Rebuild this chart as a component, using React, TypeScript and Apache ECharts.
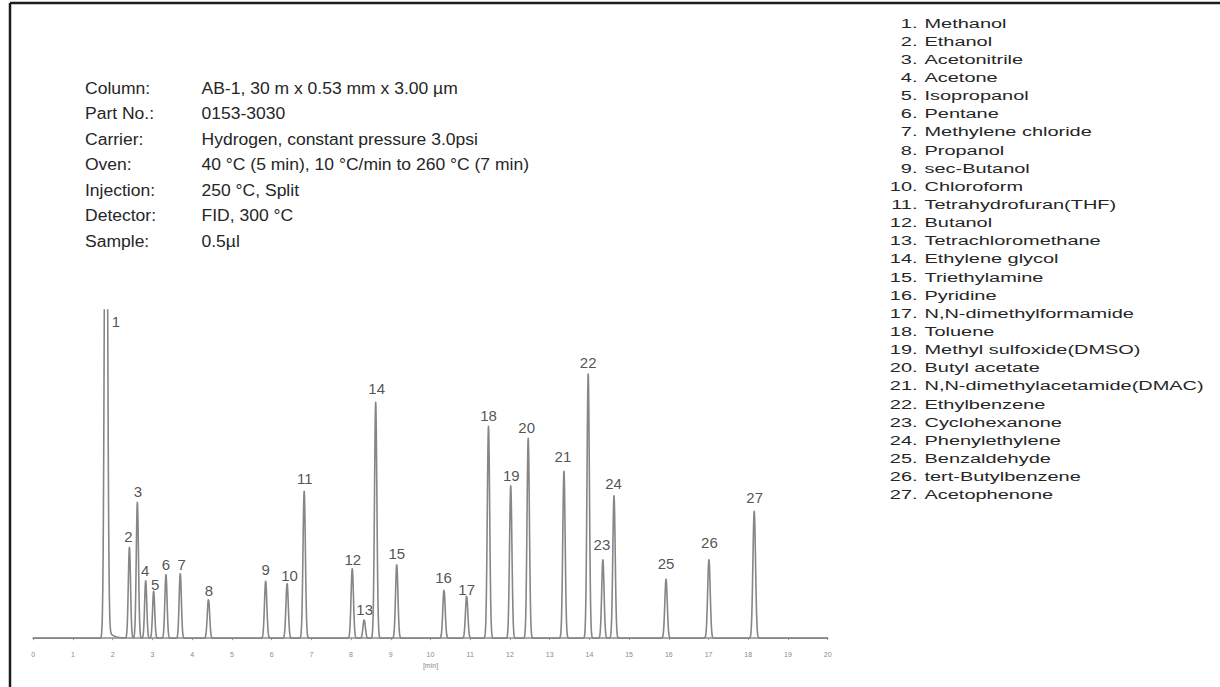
import { useEffect, useRef } from "react";
import * as echarts from "echarts";

// Peak table: number, retention time (min), height (relative response), peak sigma (min)
const peakNumbers = [
  1, 2, 3, 4, 5, 6, 7, 8, 9, 10, 11, 12, 13, 14, 15, 16, 17, 18, 19, 20, 21, 22, 23, 24, 25, 26, 27,
];
const retentionTimes = [
  1.83, 2.42, 2.62, 2.83, 3.03, 3.34, 3.7, 4.41, 5.85, 6.39, 6.82, 8.03, 8.33, 8.62, 9.15, 10.34,
  10.91, 11.46, 12.02, 12.46, 13.36, 13.97, 14.34, 14.62, 15.93, 17.01, 18.15,
];
const peakHeights = [
  700, 91, 136, 57.5, 47, 63.5, 64.5, 39, 57, 54.5, 147, 69.5, 18.5, 236, 73.5, 48.5, 42.5, 212,
  152.5, 200, 167, 264.5, 78.5, 142.5, 59, 78.5, 127,
];
const peakSigmas = [
  0.035, 0.028, 0.028, 0.027, 0.027, 0.028, 0.028, 0.03, 0.03, 0.03, 0.03, 0.03, 0.03, 0.03, 0.03,
  0.03, 0.03, 0.03, 0.03, 0.03, 0.03, 0.03, 0.03, 0.03, 0.031, 0.032, 0.033,
];
// Solvent (methanol) peak tailing
const solventTailHeight = 12;
const solventTailDecay = 0.12;

const compounds = [
  "Methanol",
  "Ethanol",
  "Acetonitrile",
  "Acetone",
  "Isopropanol",
  "Pentane",
  "Methylene chloride",
  "Propanol",
  "sec-Butanol",
  "Chloroform",
  "Tetrahydrofuran(THF)",
  "Butanol",
  "Tetrachloromethane",
  "Ethylene glycol",
  "Triethylamine",
  "Pyridine",
  "N,N-dimethylformamide",
  "Toluene",
  "Methyl sulfoxide(DMSO)",
  "Butyl acetate",
  "N,N-dimethylacetamide(DMAC)",
  "Ethylbenzene",
  "Cyclohexanone",
  "Phenylethylene",
  "Benzaldehyde",
  "tert-Butylbenzene",
  "Acetophenone",
];

const methodLabels = ["Column:", "Part No.:", "Carrier:", "Oven:", "Injection:", "Detector:", "Sample:"];
const methodValues = [
  "AB-1, 30 m x 0.53 mm x 3.00 µm",
  "0153-3030",
  "Hydrogen, constant pressure 3.0psi",
  "40 °C (5 min), 10 °C/min to 260 °C (7 min)",
  "250 °C, Split",
  "FID, 300 °C",
  "0.5µl",
];

const timeMin = 0;
const timeMax = 20;
const timeStep = 1;
const responseMin = -8.5;
const responseMax = 328.5;

// Label placement tweaks (pixels): [dx, lift above apex]
const labelPlacement: [number, number][] = [
  [10, -11], [-1, 11], [0.5, 11], [-0.5, 10], [1.5, 6.5], [0, 10], [1.5, 9], [0.5, 9], [0, 11.5],
  [2.5, 8.5], [0.5, 12.5], [0.5, 9], [0.5, 10], [1, 13.5], [0, 11.5], [-0.5, 12], [0, 6],
  [0, 11], [0.5, 10.5], [-1.5, 10.5], [-1, 15], [0, 11], [-1, 15], [-0.5, 12], [0, 16], [0.5, 17.5],
  [0.5, 13.5],
];

const FONT = "'Liberation Sans', Arial, Helvetica, sans-serif";
const TEXT_COLOR = "#262626";

function response(t: number): number {
  let y = 0;
  for (let i = 0; i < retentionTimes.length; i++) {
    const d = t - retentionTimes[i];
    const s = peakSigmas[i];
    if (Math.abs(d) > 10 * s) continue;
    y += peakHeights[i] * Math.exp((-d * d) / (2 * s * s));
  }
  const d0 = t - retentionTimes[0];
  if (d0 > 0) {
    const s0 = peakSigmas[0];
    y += solventTailHeight * (1 - Math.exp((-d0 * d0) / (2 * s0 * s0))) * Math.exp(-d0 / solventTailDecay);
  }
  return y;
}

function buildTrace(): [number, number][] {
  const pts: [number, number][] = [];
  const n = 4000;
  for (let k = 0; k <= n; k++) {
    const t = timeMin + ((timeMax - timeMin) * k) / n;
    pts.push([t, response(t)]);
  }
  return pts;
}

export default function App() {
  const ref = useRef<HTMLDivElement>(null);

  useEffect(() => {
    if (!ref.current) return;
    const chart = echarts.init(ref.current, undefined, { renderer: "svg" });

    const graphics: any[] = [
      // frame
      {
        type: "line",
        shape: { x1: 10, y1: 3, x2: 1220, y2: 3 },
        style: { stroke: "#1c1c1c", lineWidth: 2.5 },
        silent: true,
      },
      {
        type: "line",
        shape: { x1: 10, y1: 3, x2: 10, y2: 687 },
        style: { stroke: "#1c1c1c", lineWidth: 2.5 },
        silent: true,
      },
    ];

    methodLabels.forEach((lab, i) => {
      const y = 88.3 + i * 25.55;
      graphics.push({
        type: "text",
        x: 85,
        y,
        scaleX: 1.095,
        silent: true,
        style: {
          text: lab,
          fontSize: 16,
          fontFamily: FONT,
          fill: TEXT_COLOR,
          textAlign: "left",
          textVerticalAlign: "middle",
        },
      });
      graphics.push({
        type: "text",
        x: 201.5,
        y,
        scaleX: 1.095,
        silent: true,
        style: {
          text: methodValues[i],
          fontSize: 16,
          fontFamily: FONT,
          fill: TEXT_COLOR,
          textAlign: "left",
          textVerticalAlign: "middle",
        },
      });
    });

    compounds.forEach((name, i) => {
      const y = 23.3 + i * 18.14;
      graphics.push({
        type: "text",
        x: 917.5,
        y,
        scaleX: 1.5,
        silent: true,
        style: {
          text: `${peakNumbers[i]}.`,
          fontSize: 13.3,
          fontFamily: FONT,
          fill: TEXT_COLOR,
          textAlign: "right",
          textVerticalAlign: "middle",
        },
      });
      graphics.push({
        type: "text",
        x: 924.5,
        y,
        scaleX: 1.5,
        silent: true,
        style: {
          text: name,
          fontSize: 13.3,
          fontFamily: FONT,
          fill: TEXT_COLOR,
          textAlign: "left",
          textVerticalAlign: "middle",
        },
      });
    });

    const labelPoints = retentionTimes.map((t, i) => ({
      value: [t, Math.min(peakHeights[i], responseMax)],
      name: String(peakNumbers[i]),
      label: { offset: [labelPlacement[i][0], -labelPlacement[i][1]] },
    }));

    chart.setOption({
      animation: false,
      backgroundColor: "#ffffff",
      grid: { left: 33.3, right: 392.3, top: 310, bottom: 40.3, containLabel: false },
      xAxis: {
        type: "value",
        min: timeMin,
        max: timeMax,
        interval: timeStep,
        name: "[min]",
        nameLocation: "middle",
        nameGap: 15,
        nameTextStyle: { fontSize: 7, color: "#8a8a8a", fontFamily: FONT },
        axisLine: { show: true, lineStyle: { color: "#8c8c8c", width: 1.5 } },
        axisTick: { show: true, length: 2, lineStyle: { color: "#9a9a9a", width: 1 } },
        axisLabel: { fontSize: 7, color: "#8a8a8a", margin: 4, fontFamily: FONT },
        splitLine: { show: false },
      },
      yAxis: {
        type: "value",
        min: responseMin,
        max: responseMax,
        show: false,
        splitLine: { show: false },
      },
      series: [
        {
          type: "line",
          data: buildTrace(),
          showSymbol: false,
          symbol: "none",
          clip: true,
          silent: true,
          lineStyle: { color: "#868686", width: 1.6, join: "round", cap: "round" },
        },
        {
          type: "scatter",
          data: labelPoints,
          symbolSize: 1,
          clip: false,
          silent: true,
          itemStyle: { color: "rgba(0,0,0,0)" },
          label: {
            show: true,
            position: "inside",
            formatter: (p: any) => p.name,
            fontSize: 15,
            fontFamily: FONT,
            color: TEXT_COLOR,
          },
        },
      ],
      graphic: graphics,
    });

    return () => chart.dispose();
  }, []);

  return (
    <div
      ref={ref}
      style={{ position: "absolute", left: 0, top: 0, width: 1220, height: 687, background: "#fff" }}
    />
  );
}
